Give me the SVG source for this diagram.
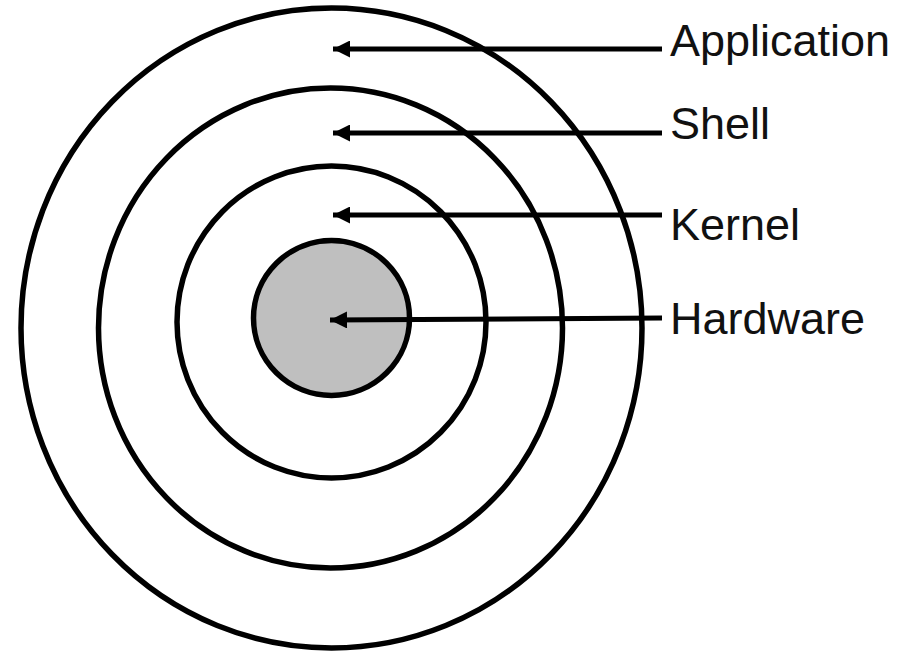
<svg xmlns="http://www.w3.org/2000/svg" width="899" height="652" viewBox="0 0 899 652">
<style>
.ring{fill:none;stroke:#000;stroke-width:5.5}
.core{fill:#bfbfbf;stroke:#000;stroke-width:5.5}
.arrow{stroke:#000;stroke-width:5;fill:none;marker-start:url(#head)}
.lbl{font-family:"Liberation Sans",Arial,sans-serif;font-size:45px;fill:#111}
</style>
<defs>
<marker id="head" viewBox="0 0 10 10" refX="0" refY="5" markerWidth="5" markerHeight="3.4" orient="auto" markerUnits="strokeWidth">
<path d="M0,5 L10,0 L10,10 Z" fill="#000"/>
</marker>
</defs>
<rect width="899" height="652" fill="#fff"/>
<g id="application-ring"><ellipse class="ring" cx="331.5" cy="328" rx="310.5" ry="320"/></g>
<g id="shell-ring"><ellipse class="ring" cx="330.5" cy="328" rx="232" ry="240"/></g>
<g id="kernel-ring"><ellipse class="ring" cx="331.5" cy="322" rx="154.5" ry="156"/></g>
<g id="hardware-core"><ellipse class="core" cx="331.5" cy="318" rx="78" ry="77.5"/></g>
<g id="connectors">
<line class="arrow" x1="333" y1="49" x2="662" y2="49"/>
<line class="arrow" x1="333" y1="133" x2="662" y2="133"/>
<line class="arrow" x1="333" y1="215" x2="662" y2="215"/>
<line class="arrow" x1="330" y1="320" x2="662" y2="318"/>
</g>
<g id="label-application"><text class="lbl" x="670" y="56">Application</text></g>
<g id="label-shell"><text class="lbl" x="670" y="139">Shell</text></g>
<g id="label-kernel"><text class="lbl" x="670" y="240">Kernel</text></g>
<g id="label-hardware"><text class="lbl" x="670" y="334">Hardware</text></g>
</svg>
